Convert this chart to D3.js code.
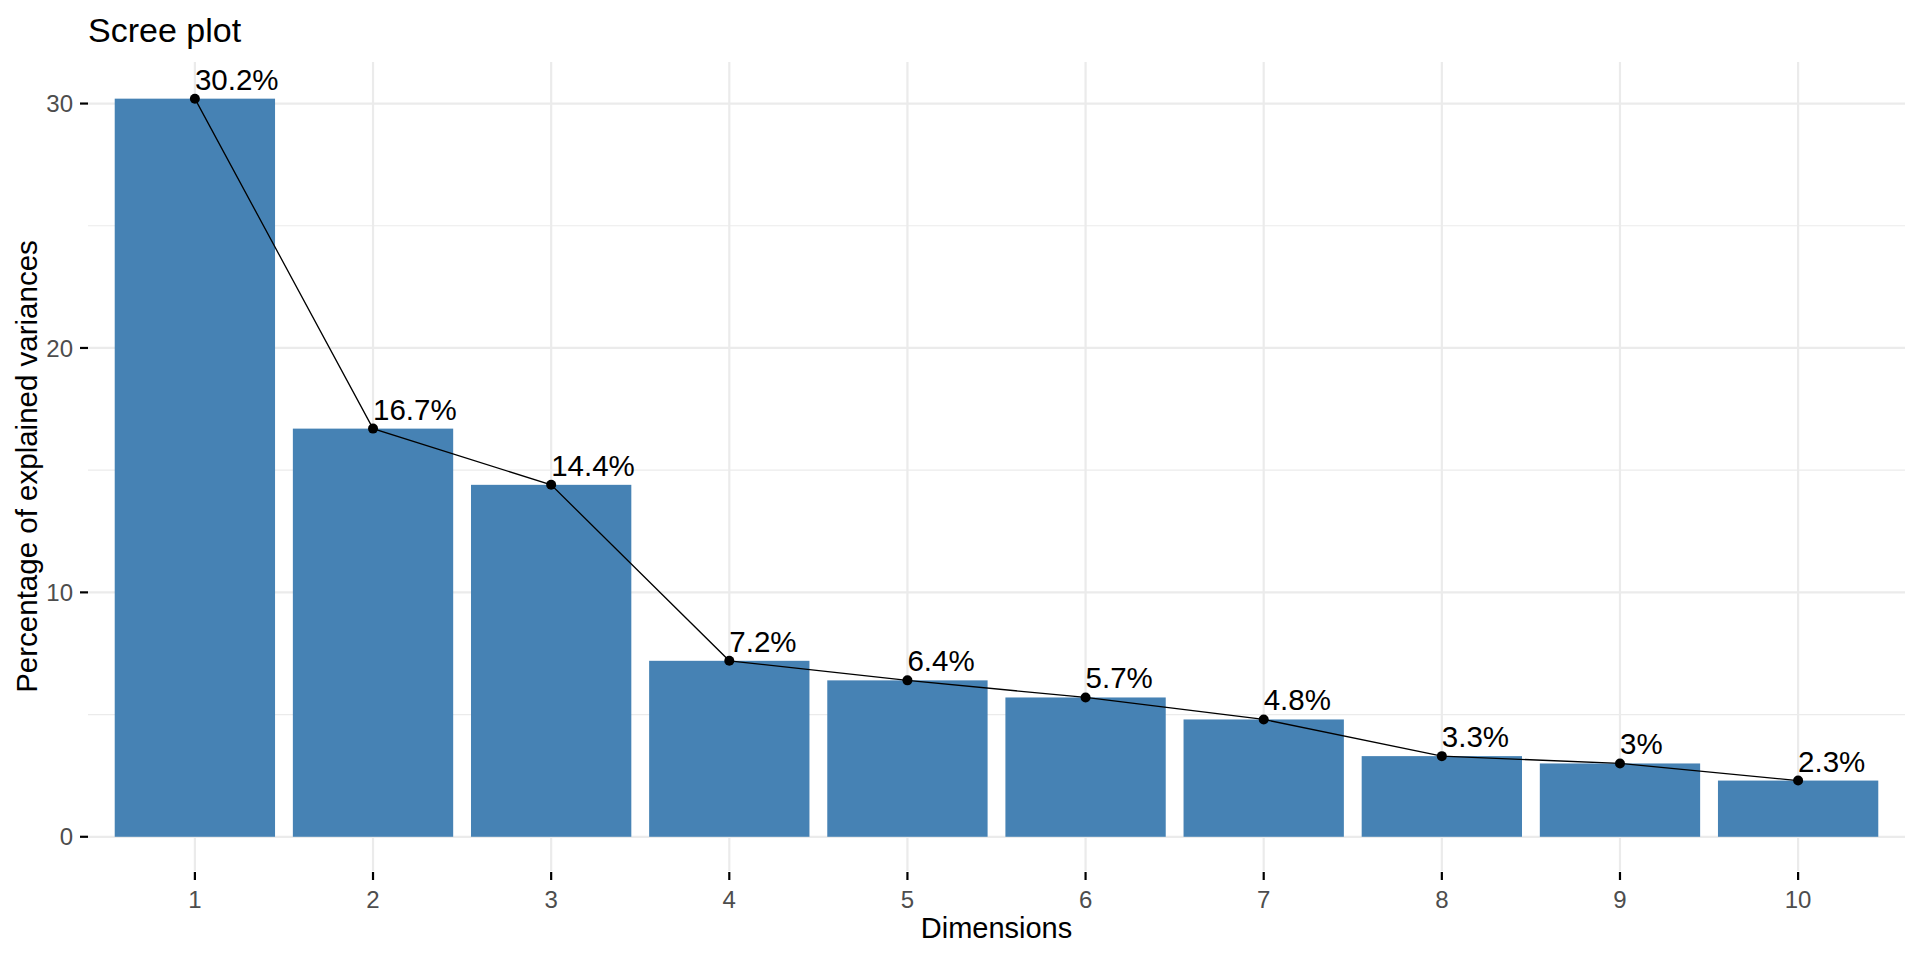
<!DOCTYPE html>
<html>
<head>
<meta charset="utf-8">
<script src="https://cdn.jsdelivr.net/npm/d3@7"></script>
<style>
  body { margin: 0; background: #fff; }
  svg { font-family: "Liberation Sans", Arial, sans-serif; }
</style>
</head>
<body>
<svg id="chart" width="1920" height="960"></svg>
<script>
// explained variance per dimension (%)
var dims = ["1", "2", "3", "4", "5", "6", "7", "8", "9", "10"];
var variances = [30.2, 16.7, 14.4, 7.2, 6.4, 5.7, 4.8, 3.3, 3.0, 2.3];
var labels = ["30.2%", "16.7%", "14.4%", "7.2%", "6.4%", "5.7%", "4.8%", "3.3%", "3%", "2.3%"];
var yTicks = [0, 10, 20, 30];
var yMinor = [5, 15, 25];

var svg = d3.select("#chart");
var margin = { top: 62, right: 15, bottom: 89, left: 88 };
var width = 1920, height = 960;
var innerWidth = width - margin.left - margin.right;
var innerHeight = height - margin.top - margin.bottom;

var data = dims.map((d, i) => ({ dim: d, value: variances[i], label: labels[i] }));

// ggplot style discrete axis: 0.6 unit expansion each side
var x = d3.scalePoint()
    .domain(dims)
    .range([0, innerWidth])
    .padding(0.6);
var step = x.step();
var barW = step * 0.9;

var y = d3.scaleLinear()
    .domain([-1.4, 31.7])
    .range([innerHeight, 0]);

var g = svg.append("g")
    .attr("transform", "translate(" + margin.left + "," + margin.top + ")");

// grid
g.selectAll(".minor").data(yMinor).enter().append("line")
    .attr("x1", 0).attr("x2", innerWidth)
    .attr("y1", d => y(d)).attr("y2", d => y(d))
    .style("stroke", "#EBEBEB").style("stroke-width", "1.1px");
g.selectAll(".major").data(yTicks).enter().append("line")
    .attr("x1", 0).attr("x2", innerWidth)
    .attr("y1", d => y(d)).attr("y2", d => y(d))
    .style("stroke", "#EBEBEB").style("stroke-width", "2.2px");
g.selectAll(".vgrid").data(dims).enter().append("line")
    .attr("x1", d => x(d)).attr("x2", d => x(d))
    .attr("y1", 0).attr("y2", innerHeight)
    .style("stroke", "#EBEBEB").style("stroke-width", "2.2px");

// bars
g.selectAll(".bar").data(data).enter().append("rect")
    .attr("x", d => x(d.dim) - barW / 2)
    .attr("width", barW)
    .attr("y", d => y(d.value))
    .attr("height", d => y(0) - y(d.value))
    .style("fill", "#4682B4");

// line + points
g.append("path")
    .datum(data)
    .attr("d", d3.line().x(d => x(d.dim)).y(d => y(d.value)))
    .style("fill", "none")
    .style("stroke", "black")
    .style("stroke-width", "1.3px");

g.selectAll(".pt").data(data).enter().append("circle")
    .attr("cx", d => x(d.dim))
    .attr("cy", d => y(d.value))
    .attr("r", 5)
    .style("fill", "black");

g.selectAll(".lbl").data(data).enter().append("text")
    .attr("x", d => x(d.dim))
    .attr("y", d => y(d.value) - 9)
    .attr("text-anchor", "start")
    .style("font-size", "29.5px")
    .style("fill", "black")
    .text(d => d.label);

// y axis ticks + labels
g.selectAll(".ytick").data(yTicks).enter().append("line")
    .attr("x1", -8).attr("x2", 0)
    .attr("y1", d => y(d)).attr("y2", d => y(d))
    .style("stroke", "black").style("stroke-width", "2.2px");
g.selectAll(".ylab").data(yTicks).enter().append("text")
    .attr("x", -15)
    .attr("y", d => y(d))
    .attr("dy", "0.36em")
    .attr("text-anchor", "end")
    .style("font-size", "24px")
    .style("fill", "#4D4D4D")
    .text(d => d);

// x axis ticks + labels
g.selectAll(".xtick").data(dims).enter().append("line")
    .attr("x1", d => x(d)).attr("x2", d => x(d))
    .attr("y1", innerHeight + 1).attr("y2", innerHeight + 9)
    .style("stroke", "black").style("stroke-width", "2.2px");
g.selectAll(".xlab").data(dims).enter().append("text")
    .attr("x", d => x(d))
    .attr("y", innerHeight + 37)
    .attr("text-anchor", "middle")
    .style("font-size", "24px")
    .style("fill", "#4D4D4D")
    .text(d => d);

// titles
svg.append("text")
    .attr("x", margin.left)
    .attr("y", 42)
    .style("font-size", "34px")
    .style("fill", "black")
    .text("Scree plot");

svg.append("text")
    .attr("x", margin.left + innerWidth / 2)
    .attr("y", 938)
    .attr("text-anchor", "middle")
    .style("font-size", "29px")
    .style("fill", "black")
    .text("Dimensions");

svg.append("text")
    .attr("transform", "translate(37," + (margin.top + innerHeight / 2) + ") rotate(-90)")
    .attr("text-anchor", "middle")
    .style("font-size", "29.5px")
    .style("fill", "black")
    .text("Percentage of explained variances");
</script>
</body>
</html>
